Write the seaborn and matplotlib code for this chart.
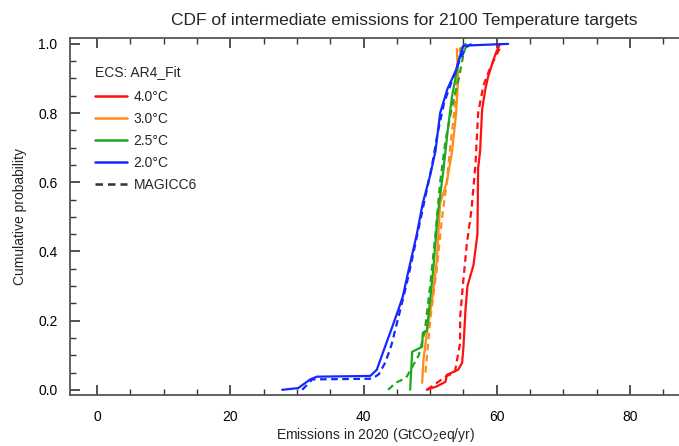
import matplotlib
matplotlib.use("Agg")
import matplotlib.pyplot as plt
import seaborn as sns
import numpy as np
from matplotlib.lines import Line2D
from matplotlib.ticker import MultipleLocator

# CDF curves: emissions (x) and cumulative probability (y)
# 2.0 C
ar4_20_x = [27.8, 30.2, 32.0, 33.0, 41.0, 42.0, 42.9, 44.0, 45.2, 45.9, 46.7, 48.0, 48.9, 50.0, 50.8, 51.5, 52.6, 53.8, 54.2, 55.0, 61.7]
ar4_20_y = [0.0, 0.005, 0.030, 0.038, 0.040, 0.058, 0.107, 0.165, 0.230, 0.270, 0.340, 0.450, 0.540, 0.620, 0.690, 0.800, 0.870, 0.920, 0.945, 0.995, 1.0]
mag_20_x = [30.8, 32.3, 41.3, 42.3, 43.3, 44.2, 45.5, 46.4, 47.1, 48.2, 49.3, 50.3, 51.1, 52.1, 53.4, 54.4, 55.4, 56.2]
mag_20_y = [0.0, 0.030, 0.032, 0.045, 0.080, 0.130, 0.230, 0.300, 0.360, 0.460, 0.560, 0.650, 0.740, 0.830, 0.900, 0.950, 0.990, 1.0]

# 2.5 C
ar4_25_x = [47.0, 47.3, 48.8, 48.9, 49.5, 50.0, 50.5, 51.1, 52.0, 52.7, 53.3, 53.8, 54.2, 54.8, 55.3]
ar4_25_y = [0.0, 0.110, 0.124, 0.165, 0.170, 0.260, 0.355, 0.500, 0.636, 0.760, 0.850, 0.900, 0.945, 0.990, 1.0]
mag_25_x = [43.7, 44.8, 45.9, 46.4, 48.3, 49.2, 50.0, 50.8, 51.5, 52.3, 53.3, 54.3, 55.0, 55.5]
mag_25_y = [0.0, 0.020, 0.030, 0.035, 0.100, 0.170, 0.300, 0.450, 0.600, 0.720, 0.820, 0.900, 0.970, 1.0]

# 3.0 C
ar4_30_x = [48.8, 49.0, 49.5, 50.3, 51.0, 51.5, 52.5, 53.3, 53.9, 54.2, 54.0]
ar4_30_y = [0.020, 0.087, 0.165, 0.260, 0.375, 0.540, 0.600, 0.690, 0.800, 0.900, 0.985]
mag_30_x = [49.3, 50.0, 51.0, 51.8, 52.5, 53.0, 53.6, 54.0, 54.5]
mag_30_y = [0.050, 0.200, 0.350, 0.500, 0.600, 0.700, 0.800, 0.900, 0.990]

# 4.0 C
ar4_40_x = [49.5, 51.0, 52.3, 52.5, 54.2, 54.8, 55.0, 55.3, 55.6, 56.5, 57.1, 57.2, 57.5, 57.8, 58.3, 58.7, 59.5, 60.0, 60.5]
ar4_40_y = [0.0, 0.010, 0.023, 0.043, 0.058, 0.078, 0.124, 0.230, 0.300, 0.360, 0.450, 0.640, 0.690, 0.810, 0.870, 0.905, 0.954, 0.980, 1.0]
mag_40_x = [49.5, 51.0, 52.5, 53.7, 54.5, 54.5, 55.0, 55.5, 56.2, 56.8, 57.2, 58.0, 59.0, 60.0, 60.8]
mag_40_y = [0.0, 0.020, 0.040, 0.050, 0.135, 0.210, 0.320, 0.420, 0.520, 0.650, 0.800, 0.880, 0.930, 0.970, 1.0]

labels = ["4.0°C", "3.0°C", "2.5°C", "2.0°C"]
colors = ["#ff1010", "#ff8c1a", "#1fa81f", "#1428ff"]

sns.set_style("ticks")
plt.rcParams["font.family"] = ["Liberation Sans", "DejaVu Sans"]
plt.rcParams["mathtext.fontset"] = "custom"
plt.rcParams["mathtext.rm"] = "Liberation Sans"

fig = plt.figure(figsize=(6.79, 4.46), dpi=100)
ax = fig.add_axes([70 / 679, 51 / 446, 612 / 679, 357 / 446])

series = [
    (ar4_40_x, ar4_40_y, mag_40_x, mag_40_y),
    (ar4_30_x, ar4_30_y, mag_30_x, mag_30_y),
    (ar4_25_x, ar4_25_y, mag_25_x, mag_25_y),
    (ar4_20_x, ar4_20_y, mag_20_x, mag_20_y),
]
for (sx, sy, dx, dy), c in zip(series, colors):
    sns.lineplot(x=sx, y=sy, sort=False, estimator=None, color=c, lw=1.6, ax=ax)
    sns.lineplot(x=dx, y=dy, sort=False, estimator=None, color=c, lw=1.6,
                 dashes=False, linestyle=(0, (3, 2)), ax=ax)

ax.set_xlim(-4.05, 87.8)
ax.set_ylim(-0.015, 1.017)
ax.xaxis.set_major_locator(MultipleLocator(20))
ax.xaxis.set_minor_locator(MultipleLocator(5))
ax.yaxis.set_major_locator(MultipleLocator(0.2))
ax.yaxis.set_minor_locator(MultipleLocator(0.05))
ax.yaxis.set_major_formatter(matplotlib.ticker.FormatStrFormatter("%.1f"))
ax.tick_params(which="both", direction="in", top=True, right=False, colors="#333333",
               labelcolor="black", labelsize=10)
ax.tick_params(which="major", length=7, width=1.2)
ax.tick_params(which="minor", length=4, width=1.0)
ax.tick_params(axis="x", pad=11)
ax.tick_params(axis="y", pad=9)
for s in ax.spines.values():
    s.set_color("#555555")
    s.set_linewidth(1.3)

ax.set_xlabel("Emissions in 2020 (GtCO$_2$eq/yr)", fontsize=10, labelpad=1)
ax.set_ylabel("Cumulative probability", fontsize=10, labelpad=8)
fig.text(404 / 679, 1 - 20 / 446, "CDF of intermediate emissions for 2100 Temperature targets",
         ha="center", va="center", fontsize=12.5)

handles = [Line2D([], [], color=c, lw=1.8) for c in colors]
handles.append(Line2D([], [], color="#333333", lw=1.8, linestyle=(0, (3, 2))))
leg = ax.legend(handles, labels + ["MAGICC6"], title="ECS: AR4_Fit", loc="upper left",
                bbox_to_anchor=(0.02, 0.96), frameon=False, fontsize=10, title_fontsize=10,
                handlelength=2.3, handletextpad=0.5, labelspacing=0.58, alignment="left")
leg._legend_box.sep = 8

fig.savefig("out.png", dpi=100)
